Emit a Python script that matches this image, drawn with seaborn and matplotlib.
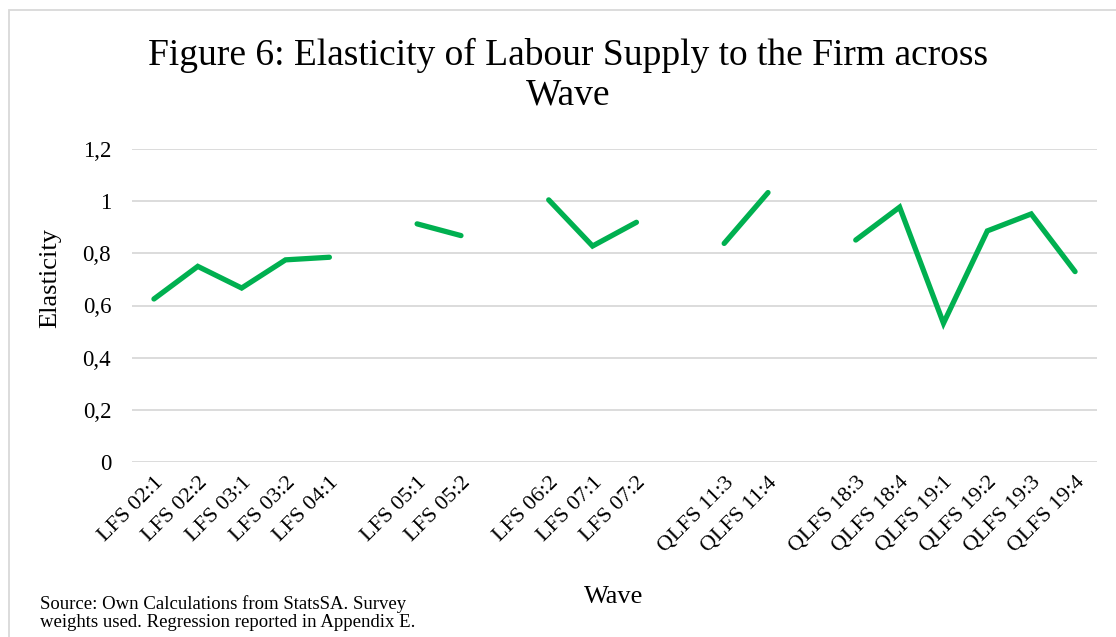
import numpy as np
import pandas as pd
import matplotlib
matplotlib.use("Agg")
import matplotlib.pyplot as plt
from matplotlib.patches import Rectangle
import seaborn as sns

# Survey waves along the x axis; blank entries mark breaks between survey series
waves = ["LFS 02:1", "LFS 02:2", "LFS 03:1", "LFS 03:2", "LFS 04:1", "",
         "LFS 05:1", "LFS 05:2", "",
         "LFS 06:2", "LFS 07:1", "LFS 07:2", "",
         "QLFS 11:3", "QLFS 11:4", "",
         "QLFS 18:3", "QLFS 18:4", "QLFS 19:1", "QLFS 19:2", "QLFS 19:3", "QLFS 19:4"]

# Estimated elasticity of labour supply to the firm per wave
elasticity = [0.625, 0.750, 0.667, 0.775, 0.785, np.nan,
              0.913, 0.868, np.nan,
              1.005, 0.828, 0.919, np.nan,
              0.838, 1.033, np.nan,
              0.851, 0.977, 0.532, 0.886, 0.951, 0.730]

y_ticks = [0, 0.2, 0.4, 0.6, 0.8, 1.0, 1.2]
y_tick_labels = ["0", "0,2", "0,4", "0,6", "0,8", "1", "1,2"]

title = "Figure 6: Elasticity of Labour Supply to the Firm across\nWave"
source_note = "Source: Own Calculations from StatsSA. Survey\nweights used. Regression reported in Appendix E."

sns.set_theme(style="white")
plt.rcParams["font.family"] = ["Liberation Serif", "DejaVu Serif"]
plt.rcParams["text.color"] = "black"
plt.rcParams["xtick.color"] = "black"
plt.rcParams["ytick.color"] = "black"

W, H = 1116, 637
fig = plt.figure(figsize=(W / 100, H / 100), dpi=100)
fig.patch.set_facecolor("white")

# chart frame
fig.add_artist(Rectangle((9 / W, -0.1), 1.2, 1 - 10 / H + 0.1, transform=fig.transFigure,
                         fill=False, edgecolor="#d9d9d9", linewidth=1.3))

ax = fig.add_axes([132 / W, 1 - 462 / H, (1097 - 132) / W, (462 - 149) / H])

df = pd.DataFrame({"pos": np.arange(len(waves)), "wave": waves, "value": elasticity})
df["segment"] = df["value"].isna().cumsum()
df = df.dropna()

sns.lineplot(data=df, x="pos", y="value", units="segment", estimator=None,
             color="#00b050", linewidth=3.8, solid_capstyle="round",
             solid_joinstyle="miter", ax=ax, legend=False)

ax.set_xlim(-0.5, len(waves) - 0.5)
ax.set_ylim(0, 1.2)
ax.set_yticks(y_ticks)
ax.set_yticklabels(y_tick_labels, fontsize=16.5)
ax.set_xticks(np.arange(len(waves)))
ax.set_xticklabels(waves, fontsize=16, rotation=45, ha="right", rotation_mode="anchor")
ax.tick_params(axis="y", length=0, pad=15)
ax.tick_params(axis="x", length=0, pad=8)
ax.set_xlabel("")
ax.set_ylabel("")
ax.grid(axis="y", color="#d9d9d9", linewidth=1.3)
ax.grid(axis="x", visible=False)
ax.set_axisbelow(True)
for s in ax.spines.values():
    s.set_visible(False)

fig.text(568 / W, 1 - 75 / H, title, ha="center", va="center", fontsize=27,
         linespacing=1.2)
fig.text(50 / W, 1 - 278 / H, "Elasticity", rotation=90, ha="center", va="center",
         fontsize=19)
fig.text(614 / W, 1 - 597 / H, "Wave", ha="center", va="center", fontsize=19)
fig.text(40 / W, 1 - 613 / H, source_note, ha="left", va="center", fontsize=13.5,
         linespacing=1.05)

fig.savefig("out.png", dpi=100, facecolor="white")
